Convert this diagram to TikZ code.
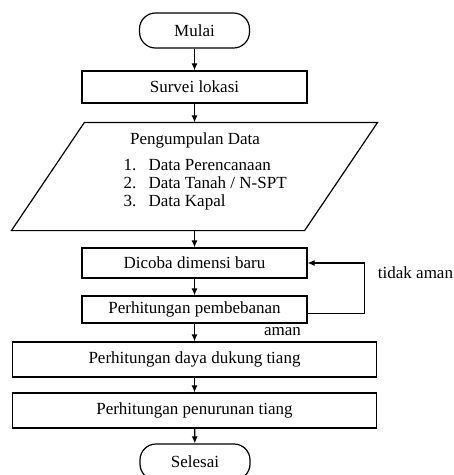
\documentclass[tikz,border=0pt]{standalone}
\usepackage{fontspec}
\setmainfont{Liberation Serif}
\usetikzlibrary{arrows.meta,positioning}
\tikzset{proses/.style={draw, rectangle, minimum height=31pt, inner sep=0pt, text=black},
  terminal/.style={draw, rectangle, rounded corners=16pt, minimum width=110pt, minimum height=35pt},
  teks/.style={inner sep=0pt}, >={Latex[length=7pt,width=6pt]}}

\begin{document}
\begin{tikzpicture}[x=1pt, y=-1pt, very thick, font=\fontsize{17}{18}\selectfont]
    \useasboundingbox (0,0) rectangle (454,475);
    \node[terminal] (mulai) at (194.5,30.5) {Mulai};
    \node[proses, minimum width=225pt, minimum height=32pt] (survei) at (194.5,87) {Survei lokasi};
    \node[teks, minimum width=292pt, minimum height=107pt] (data) at (194.5,176.5) {};
    \draw ([xshift=-36.5pt]data.south west) -- ([xshift=-36.5pt]data.south east) -- ([xshift=36.5pt]data.north east) -- ([xshift=36.5pt]data.north west) -- cycle;
    \node[teks] (judul) at (195,140) {Pengumpulan Data};
    \node[teks, anchor=west, align=left] (daftar) at (123,184.5) {\makebox[25pt][l]{1.}Data Perencanaan\\ \makebox[25pt][l]{2.}Data Tanah / N-SPT\\ \makebox[25pt][l]{3.}Data Kapal};
    \node[proses, minimum width=225pt, minimum height=30pt] (dicoba) at (194.5,263) {Dicoba dimensi baru};
    \node[proses, minimum width=225pt, minimum height=27pt] (beban) at (194.5,309.5) {Perhitungan pembebanan};
    \node[proses, minimum width=364pt, minimum height=35pt] (dukung) at (194.5,359.5) {Perhitungan daya dukung tiang};
    \node[proses, minimum width=364pt, minimum height=35pt] (turun) at (194.5,410.5) {Perhitungan penurunan tiang};
    \node[terminal, minimum height=36pt] (selesai) at (195,462) {Selesai};
    \node[teks] (tidakaman) at (415.5,273) {tidak aman};
    \node[teks] (aman) at (282.5,332) {aman};
    \draw[->] (mulai) -- (survei);
    \draw[->] (survei) -- (data);
    \draw[->] (data) -- (dicoba);
    \draw[->] (dicoba) -- (beban);
    \draw[->] (beban) -- (dukung);
    \draw[->] (dukung) -- (turun);
    \draw[->] (turun) -- (selesai);
    \draw[->] ([yshift=-4pt]beban.east) -- ++(57,0) |- (dicoba.east);
\end{tikzpicture}
\end{document}
